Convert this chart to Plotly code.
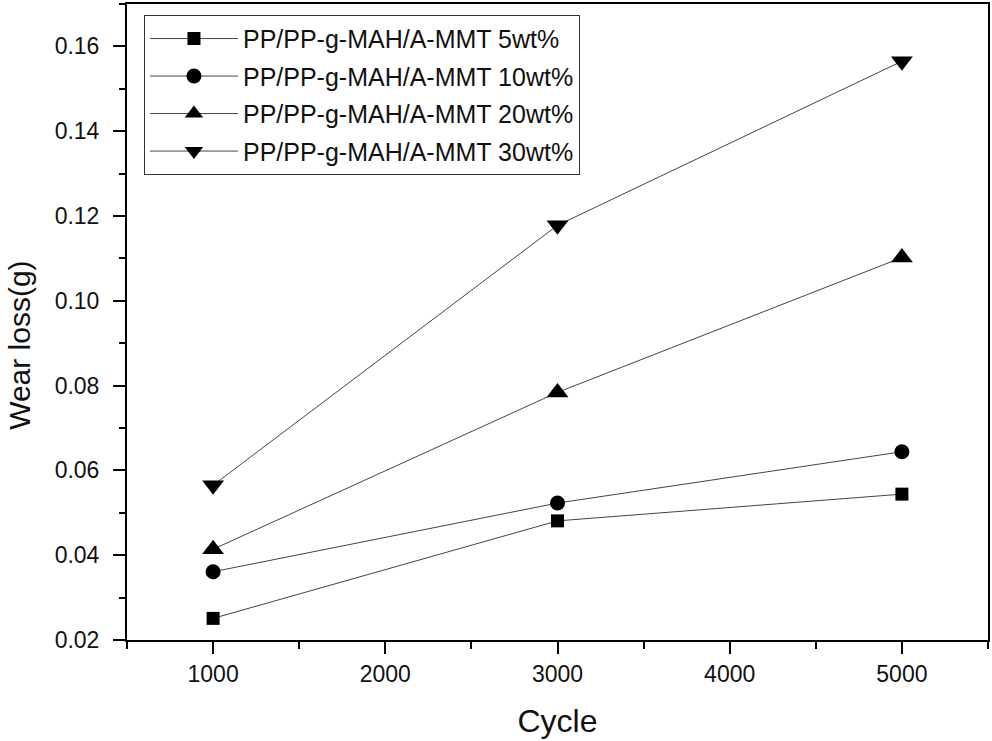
import plotly.graph_objects as go

cycles = [1000, 3000, 5000]
wt5 = [0.0251, 0.0481, 0.0544]
wt10 = [0.0361, 0.0523, 0.0644]
wt20 = [0.0414, 0.0784, 0.1102]
wt30 = [0.0565, 0.1178, 0.1565]

names = ["PP/PP-g-MAH/A-MMT 5wt%", "PP/PP-g-MAH/A-MMT 10wt%",
         "PP/PP-g-MAH/A-MMT 20wt%", "PP/PP-g-MAH/A-MMT 30wt%"]
series = [wt5, wt10, wt20, wt30]
symbols = ["square", "circle", "triangle-up", "triangle-down"]
sizes = [13, 15, 19, 19]

FONT = "Arial, Liberation Sans, sans-serif"

fig = go.Figure()
for i, (nm, ys, sym, sz) in enumerate(zip(names, series, symbols, sizes)):
    fig.add_trace(go.Scatter(
        x=cycles, y=ys, name=nm, mode="lines+markers",
        legendgroup=f"g{i}",
        line=dict(color="#444444", width=1),
        marker=dict(symbol=sym, size=sz, color="black", line=dict(width=0)),
    ))

axis_common = dict(
    showline=True, linecolor="black", linewidth=2, mirror=True,
    ticks="outside", ticklen=12, tickwidth=1.5, tickcolor="black",
    showgrid=False, zeroline=False,
    tickfont=dict(family=FONT, size=23, color="#111111"),
)

fig.update_xaxes(
    range=[500, 5500], tick0=1000, dtick=1000,
    minor=dict(ticks="outside", ticklen=7, dtick=500, tick0=500,
               tickcolor="black", tickwidth=1.5, showgrid=False),
    title=dict(text="Cycle", font=dict(family=FONT, size=32, color="#111111"), standoff=24),
    **axis_common,
)
fig.update_yaxes(
    range=[0.02, 0.17], tick0=0.02, dtick=0.02, tickformat=".2f",
    minor=dict(ticks="outside", ticklen=6, dtick=0.01, tick0=0.01,
               tickcolor="black", tickwidth=1.5, showgrid=False),
    ticklabelstandoff=9,
    **axis_common,
)

fig.add_annotation(
    text="Wear loss(g)", textangle=-90, xref="paper", yref="paper",
    x=-0.1243, y=0.464, xanchor="center", yanchor="middle", showarrow=False,
    font=dict(family=FONT, size=30, color="#111111"),
)

fig.update_layout(
    width=992, height=741,
    margin=dict(l=127, r=4, t=4, b=101, autoexpand=False),
    paper_bgcolor="white", plot_bgcolor="white",
    showlegend=True,
    legend=dict(
        x=0.0197, y=0.983, xanchor="left", yanchor="top",
        bgcolor="white", bordercolor="#333333", borderwidth=1,
        font=dict(family=FONT, size=25, color="#111111"),
        tracegroupgap=2, itemwidth=88,
    ),
)

fig.write_html("out.html", config={"displayModeBar": False},
               post_script="document.body.style.margin='0px';")
